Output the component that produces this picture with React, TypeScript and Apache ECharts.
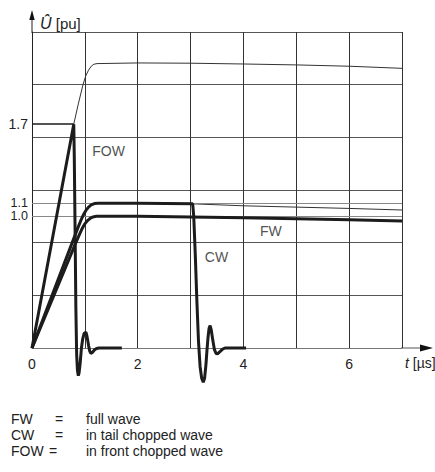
import React, { useEffect, useRef } from "react";
import * as echarts from "echarts";

// ---- data (t in µs, U in pu) ----
const xTickLabels = [0, 2, 4, 6];
const yRefLabels = [1.0, 1.1];
const fowPeakLabel = 1.7;

const fwData: [number, number][] = [
  [0, 0], [0.83, 0.8], [0.9, 0.865], [0.95, 0.908], [1.0, 0.943], [1.05, 0.968],
  [1.1, 0.985], [1.15, 0.995], [1.22, 1.0], [2, 1.0], [3, 0.995], [4, 0.99],
  [5, 0.982], [6, 0.974], [7, 0.965],
];

const cwData: [number, number][] = [
  [0, 0], [0.86, 0.905], [0.92, 0.965], [0.97, 1.01], [1.02, 1.045], [1.07, 1.07],
  [1.12, 1.087], [1.18, 1.097], [1.25, 1.1], [2, 1.1], [3.04, 1.095], [3.06, 1.0],
  [3.09, 0.7], [3.12, 0.35], [3.15, 0.05], [3.18, -0.14], [3.21, -0.23], [3.24, -0.26],
  [3.265, -0.23], [3.29, -0.13], [3.31, -0.02], [3.33, 0.08], [3.35, 0.15], [3.37, 0.17],
  [3.39, 0.14], [3.42, 0.06], [3.45, -0.01], [3.48, -0.04], [3.51, -0.045], [3.55, -0.03],
  [3.6, -0.01], [3.65, 0], [4.05, 0],
];

const fowData: [number, number][] = [
  [0, 0], [0.79, 1.7], [0.8, 1.45], [0.815, 0.9], [0.83, 0.3], [0.845, -0.05],
  [0.86, -0.17], [0.876, -0.21], [0.89, -0.19], [0.91, -0.12], [0.935, 0],
  [0.96, 0.07], [0.985, 0.11], [1.02, 0.12], [1.04, 0.09], [1.07, 0.02],
  [1.09, -0.02], [1.11, -0.04], [1.14, -0.035], [1.18, -0.015], [1.22, -0.004],
  [1.27, 0], [1.7, 0],
];

const fowProspective: [number, number][] = [
  [0, 0], [0.79, 1.7], [0.88, 1.86], [0.965, 2.0], [1.02, 2.07], [1.07, 2.11],
  [1.12, 2.14], [1.17, 2.155], [1.23, 2.16], [2, 2.165], [3, 2.163], [4, 2.157],
  [5, 2.15], [6, 2.14], [7, 2.124],
];

const cwProspective: [number, number][] = [
  [3.04, 1.095], [4, 1.08], [5, 1.07], [6, 1.06], [7, 1.048],
];

const curveLabels: [number, number, string][] = [
  [1.45, 1.5, "FOW"],
  [3.49, 0.69, "CW"],
  [4.52, 0.89, "FW"],
];

const legendRows: [string, string][] = [
  ["FW", "full wave"],
  ["CW", "in tail chopped wave"],
  ["FOW", "in front chopped wave"],
];

const FONT = "'Liberation Sans', Arial, Helvetica, sans-serif";
const INK = "#1c1c1c";

export default function App() {
  const ref = useRef<HTMLDivElement>(null);

  useEffect(() => {
    if (!ref.current) return;
    const chart = echarts.init(ref.current, null, { renderer: "svg" });

    const bold = { color: INK, width: 3 };
    const thin = { color: "#333", width: 1 };
    const refLabel = {
      position: "start",
      distance: 4,
      fontSize: 12.5,
      lineHeight: 12,
      color: "#222",
      fontFamily: FONT,
    };

    const option: any = {
      animation: false,
      backgroundColor: "#fff",
      textStyle: { fontFamily: FONT },
      grid: { left: 32, right: 33, top: 32, bottom: 124 },
      xAxis: {
        type: "value",
        min: 0,
        max: 7,
        interval: 1,
        axisLine: { show: true, lineStyle: { color: "#777", width: 1 } },
        axisTick: { show: false },
        axisLabel: {
          margin: 9,
          fontSize: 14,
          color: "#222",
          fontFamily: FONT,
          formatter: (v: number) => (xTickLabels.includes(v) ? String(v) : ""),
        },
        splitLine: { show: true, lineStyle: { color: "#333", width: 1 } },
      },
      yAxis: {
        type: "value",
        min: 0,
        max: 2.4,
        interval: 0.4,
        axisLine: { show: true, onZero: false, lineStyle: { color: "#222", width: 1 } },
        axisTick: { show: false },
        axisLabel: { show: false },
        splitLine: { show: true, lineStyle: { color: "#555", width: 1 } },
      },
      series: [
        {
          type: "line",
          name: "FW",
          data: fwData,
          showSymbol: false,
          lineStyle: bold,
          z: 5,
          markLine: {
            silent: true,
            symbol: ["none", "none"],
            lineStyle: { type: "solid", color: "#888", width: 1 },
            label: { ...refLabel, formatter: (p: any) => Number(p.value).toFixed(1) },
            data: yRefLabels.map((v) => ({ yAxis: v })),
          },
        },
        {
          type: "line",
          name: "CW",
          data: cwData,
          showSymbol: false,
          clip: false,
          lineStyle: bold,
          z: 5,
        },
        {
          type: "line",
          name: "FOW",
          data: fowData,
          showSymbol: false,
          clip: false,
          lineStyle: bold,
          z: 5,
          markLine: {
            silent: true,
            symbol: ["none", "none"],
            lineStyle: { type: "solid", color: INK, width: 1.5 },
            label: { ...refLabel, fontSize: 14, lineHeight: 14, formatter: () => fowPeakLabel.toFixed(1) },
            data: [
              [
                { coord: [0, fowPeakLabel] },
                { coord: [fowData[1][0], fowPeakLabel] },
              ],
            ],
          },
        },
        {
          type: "line",
          name: "FOW prospective",
          data: fowProspective,
          showSymbol: false,
          lineStyle: thin,
          z: 4,
        },
        {
          type: "line",
          name: "CW prospective",
          data: cwProspective,
          showSymbol: false,
          lineStyle: thin,
          z: 4,
        },
        {
          type: "scatter",
          name: "labels",
          data: curveLabels,
          symbolSize: 1,
          itemStyle: { color: "rgba(0,0,0,0)" },
          silent: true,
          label: {
            show: true,
            position: "inside",
            fontSize: 14,
            color: "#222",
            fontFamily: FONT,
            formatter: (p: any) => p.data[2],
          },
          z: 6,
        },
      ],
      graphic: [
        // y-axis extension + arrow
        { type: "line", shape: { x1: 32, y1: 33, x2: 32, y2: 18 }, style: { stroke: "#222", lineWidth: 1 } },
        { type: "polygon", shape: { points: [[32, 10], [29.3, 20], [34.7, 20]] }, style: { fill: "#111" } },
        // x-axis extension + arrow
        { type: "line", shape: { x1: 401, y1: 348, x2: 422, y2: 348 }, style: { stroke: "#555", lineWidth: 1 } },
        { type: "polygon", shape: { points: [[433, 348], [420, 344.6], [420, 351.4]] }, style: { fill: "#111" } },
        // axis titles
        {
          type: "text",
          x: 40,
          y: 23,
          style: {
            text: "{a|Û}{b| [pu]}",
            verticalAlign: "middle",
            rich: {
              a: { fontSize: 16, fontStyle: "italic", fontFamily: FONT, fill: "#222", color: "#222" },
              b: { fontSize: 15, fontFamily: FONT, fill: "#222", color: "#222" },
            },
          },
        },
        {
          type: "text",
          x: 405,
          y: 363,
          style: {
            text: "{a|t}{b| [µs]}",
            verticalAlign: "middle",
            rich: {
              a: { fontSize: 14, fontStyle: "italic", fontFamily: FONT, fill: "#222", color: "#222" },
              b: { fontSize: 14, fontFamily: FONT, fill: "#222", color: "#222" },
            },
          },
        },
        // legend block
        ...legendRows.flatMap(([abbr, desc], i) => {
          const y = 419 + i * 16;
          return [
            { type: "text", x: 11, y, style: { text: abbr, font: `14px ${FONT}`, fill: "#222", verticalAlign: "middle" } },
            { type: "text", x: abbr.length > 2 ? 49 : 55, y, style: { text: "=", font: `14px ${FONT}`, fill: "#222", verticalAlign: "middle" } },
            { type: "text", x: 86, y, style: { text: desc, font: `14px ${FONT}`, fill: "#222", verticalAlign: "middle" } },
          ];
        }),
      ],
    };

    chart.setOption(option);
    return () => chart.dispose();
  }, []);

  return (
    <div
      ref={ref}
      style={{ position: "fixed", left: 0, top: 0, width: 435, height: 472, background: "#fff" }}
    />
  );
}
